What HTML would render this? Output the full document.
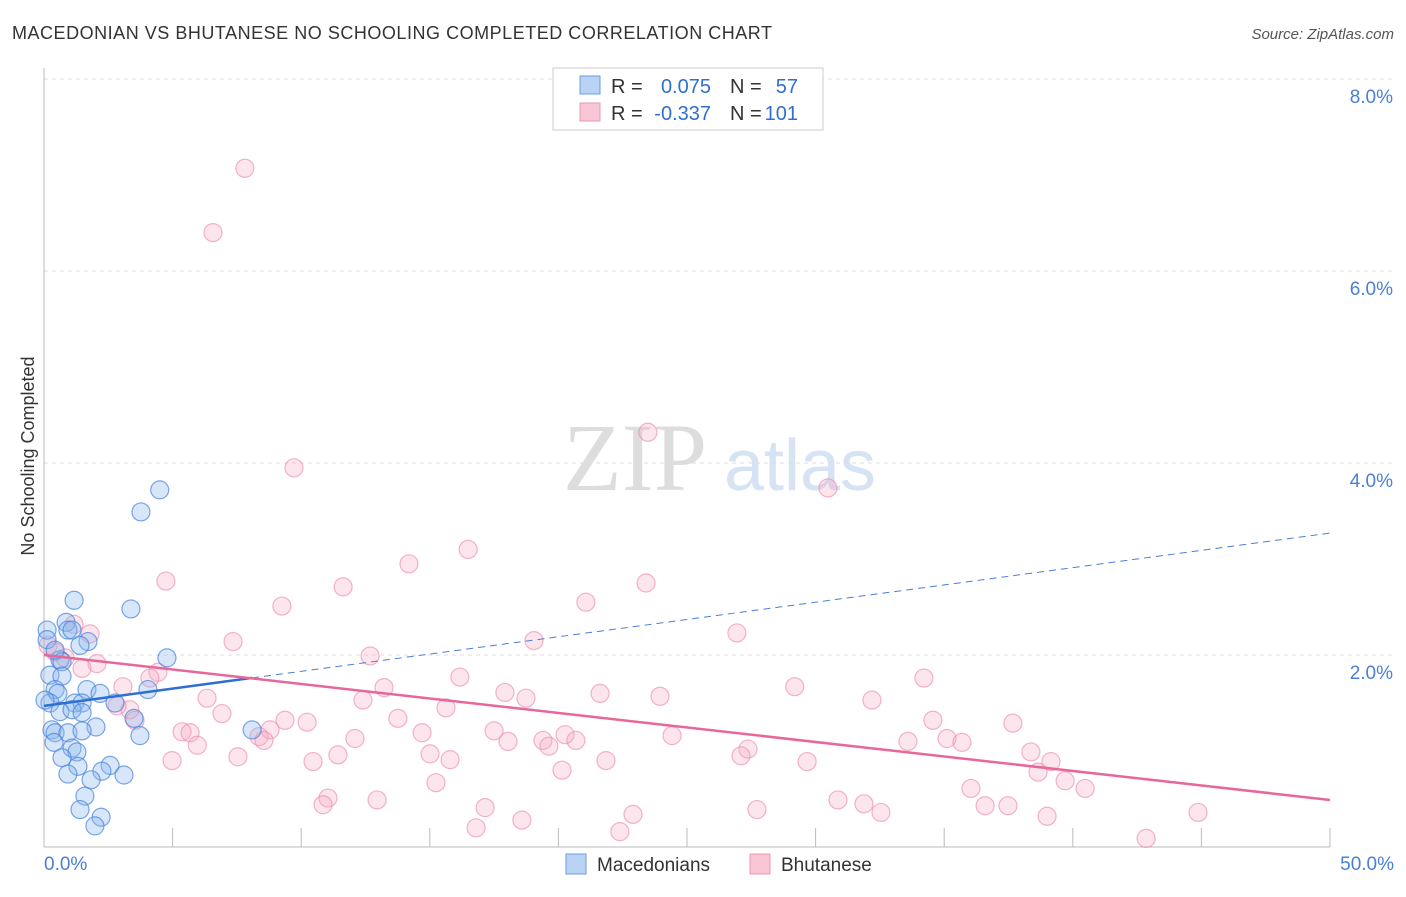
<!DOCTYPE html>
<html><head><meta charset="utf-8"><style>
body{margin:0;background:#fff;font-family:"Liberation Sans",sans-serif}
</style></head><body>
<svg width="1406" height="892" xmlns="http://www.w3.org/2000/svg">
<text x="12" y="39" font-size="18" fill="#333" textLength="760" lengthAdjust="spacing">MACEDONIAN VS BHUTANESE NO SCHOOLING COMPLETED CORRELATION CHART</text>
<text x="1394" y="39" font-size="15" fill="#555" font-style="italic" text-anchor="end">Source: ZipAtlas.com</text>
<g><text x="635" y="490" font-size="96" fill="#ddd" font-family="Liberation Serif" text-anchor="middle">ZIP</text><text x="800" y="490" font-size="72" fill="#d5e3f5" text-anchor="middle">atlas</text></g>
<g id="grid"></g><g id="axes"></g><g id="pts"></g><g id="trend"></g>
<text x="34" y="456" font-size="18" fill="#333" transform="rotate(-90 34 456)" text-anchor="middle">No Schooling Completed</text>
<g>
<rect x="553" y="68" width="270" height="62" fill="#fff" stroke="#ccc"/>
<rect x="580" y="76" width="20" height="18" fill="#b9d3f5" stroke="#6c9ee0"/>
<rect x="580" y="103" width="20" height="18" fill="#f9c6d5" stroke="#ec96b1"/>
<text x="611" y="93" font-size="20" fill="#333">R =</text><text x="711" y="93" font-size="20" fill="#2f6fd0" text-anchor="end">0.075</text>
<text x="730" y="93" font-size="20" fill="#333">N =</text><text x="798" y="93" font-size="20" fill="#2f6fd0" text-anchor="end">57</text>
<text x="611" y="120" font-size="20" fill="#333">R =</text><text x="711" y="120" font-size="20" fill="#2f6fd0" text-anchor="end">-0.337</text>
<text x="730" y="120" font-size="20" fill="#333">N =</text><text x="798" y="120" font-size="20" fill="#2f6fd0" text-anchor="end">101</text>
</g>
<g>
<rect x="566" y="854" width="20" height="20" fill="#b9d3f5" stroke="#6c9ee0"/>
<text x="597" y="871" font-size="19" fill="#333">Macedonians</text>
<rect x="750" y="854" width="20" height="20" fill="#f9c6d5" stroke="#ec96b1"/>
<text x="781" y="871" font-size="19" fill="#333">Bhutanese</text>
</g>
</svg>
<script>
const yTicks=[2,4,6,8];
const xTickLabels=["0.0%","50.0%"];
const blueX=[4.5,3.77,1.17,3.38,0.12,0.86,0.93,1.09,1.71,1.4,4.78,0.62,0.7,0.23,0.7,0.43,0.54,1.67,2.18,4.04,0.23,1.2,1.48,2.76,0.62,1.09,1.48,3.5,2.02,0.31,0.43,0.93,1.48,8.09,3.73,0.39,1.09,1.28,0.7,2.57,1.32,2.25,0.93,3.11,1.83,1.59,1.4,2.22,1.98,0.04,0.12,0.43];
const blueY=[3.72,3.49,2.57,2.48,2.26,2.34,2.26,2.26,2.14,2.1,1.97,1.95,1.93,1.79,1.78,1.64,1.6,1.64,1.6,1.64,1.5,1.5,1.5,1.5,1.41,1.43,1.4,1.34,1.25,1.22,1.19,1.19,1.21,1.22,1.16,1.09,1.03,0.99,0.93,0.85,0.84,0.79,0.76,0.75,0.7,0.53,0.39,0.31,0.22,1.53,2.16,2.05];
const pinkX=[7.81,6.57,23.48,9.72,30.48,16.49,14.19,4.74,23.41,11.63,9.25,21.07,1.17,1.79,7.35,19.05,26.94,0.16,0.43,0.82,12.68,2.06,1.48,4.43,4.12,16.17,34.21,3.07,13.22,29.19,17.92,21.62,23.95,6.34,18.74,12.4,32.19,3.34,15.63,2.84,3.54,6.92,9.37,10.23,13.76,34.56,37.67,5.37,5.68,8.79,14.7,17.5,20.26,20.68,24.42,5.96,8.36,8.55,12.09,18.04,19.4,19.63,33.59,35.11,35.69,27.37,27.1,15.01,38.37,7.54,11.43,15.79,21.85,4.98,10.46,39.15,29.67,38.65,20.14,39.7,15.24,40.48,36.04,11.04,10.85,12.95,30.87,31.88,36.59,37.48,17.15,32.54,27.72,22.9,44.87,39.0,18.58,16.8,22.39,42.85];
const pinkY=[7.07,6.4,4.32,3.95,3.74,3.1,2.95,2.77,2.75,2.71,2.51,2.55,2.32,2.22,2.14,2.15,2.23,2.1,2.03,1.97,1.99,1.91,1.86,1.82,1.76,1.77,1.76,1.67,1.66,1.67,1.61,1.6,1.57,1.55,1.55,1.53,1.53,1.43,1.45,1.47,1.32,1.39,1.32,1.3,1.34,1.32,1.29,1.2,1.19,1.22,1.19,1.21,1.17,1.11,1.16,1.06,1.15,1.11,1.13,1.1,1.11,1.05,1.1,1.13,1.09,1.02,0.95,0.97,0.99,0.94,0.96,0.91,0.9,0.9,0.89,0.89,0.89,0.78,0.8,0.69,0.67,0.61,0.61,0.51,0.44,0.49,0.49,0.45,0.43,0.43,0.41,0.36,0.39,0.34,0.36,0.32,0.28,0.2,0.16,0.09];
const blueTrend=[1.47,0.036];
const pinkTrend=[2.0,-0.0302];
const NS="http://www.w3.org/2000/svg";
const X0=44,X1=1330,Y0=847,PPU=96;
const sx=v=>X0+(v/50)*(X1-X0), sy=v=>Y0-v*PPU;
function mk(p,t,a){const e=document.createElementNS(NS,t);for(const k in a)e.setAttribute(k,a[k]);document.getElementById(p).appendChild(e);return e;}
yTicks.forEach(t=>{
 const l=mk('grid','line',{x1:X0,x2:1394,y1:sy(t),y2:sy(t),stroke:'#ddd','stroke-dasharray':'4,4'});
 
 
 const tx=mk('grid','text',{x:1393,y:sy(t)+24,'font-size':19,fill:'#4a7fd4','text-anchor':'end'});
 tx.textContent=t.toFixed(1)+'%';
 
 
});
let ax=mk('axes','line',{x1:X0,x2:X0,y1:68,y2:Y0,stroke:'#bbb'});


ax=mk('axes','line',{x1:X0,x2:X1,y1:Y0,y2:Y0,stroke:'#bbb'});


for(let i=0;i<=10;i++){const t=mk('axes','line',{x1:sx(i*5),x2:sx(i*5),y1:828,y2:Y0,stroke:'#bbb'});
 
 }
[[44,'start'],[1394,'end']].forEach((d,i)=>{const t=mk('axes','text',{x:d[0],y:870,'font-size':19,fill:'#4a7fd4','text-anchor':d[1]});
 t.textContent=xTickLabels[i];
 
 });
pinkX.forEach((x,i)=>{const c=mk('pts','circle',{cx:sx(x),cy:sy(pinkY[i]),r:9,fill:'rgba(246,170,195,0.3)',stroke:'rgba(236,140,172,0.65)','stroke-width':1.2});
 
 });
blueX.forEach((x,i)=>{const c=mk('pts','circle',{cx:sx(x),cy:sy(blueY[i]),r:9,fill:'rgba(140,182,238,0.35)',stroke:'rgba(70,130,220,0.7)','stroke-width':1.2});
 
 });
const bmax=Math.max(...blueX);
let L=mk('trend','line',{x1:sx(bmax),y1:sy(blueTrend[0]+blueTrend[1]*bmax),x2:sx(50),y2:sy(blueTrend[0]+blueTrend[1]*50),stroke:'#4a7fd4','stroke-dasharray':'7,5','stroke-width':1});


L=mk('trend','line',{x1:sx(0),y1:sy(blueTrend[0]),x2:sx(bmax),y2:sy(blueTrend[0]+blueTrend[1]*bmax),stroke:'#2f6fd0','stroke-width':2.5});


L=mk('trend','line',{x1:sx(0),y1:sy(pinkTrend[0]),x2:sx(50),y2:sy(pinkTrend[0]+pinkTrend[1]*50),stroke:'#e8679a','stroke-width':2.5});


</script>
</body></html>
